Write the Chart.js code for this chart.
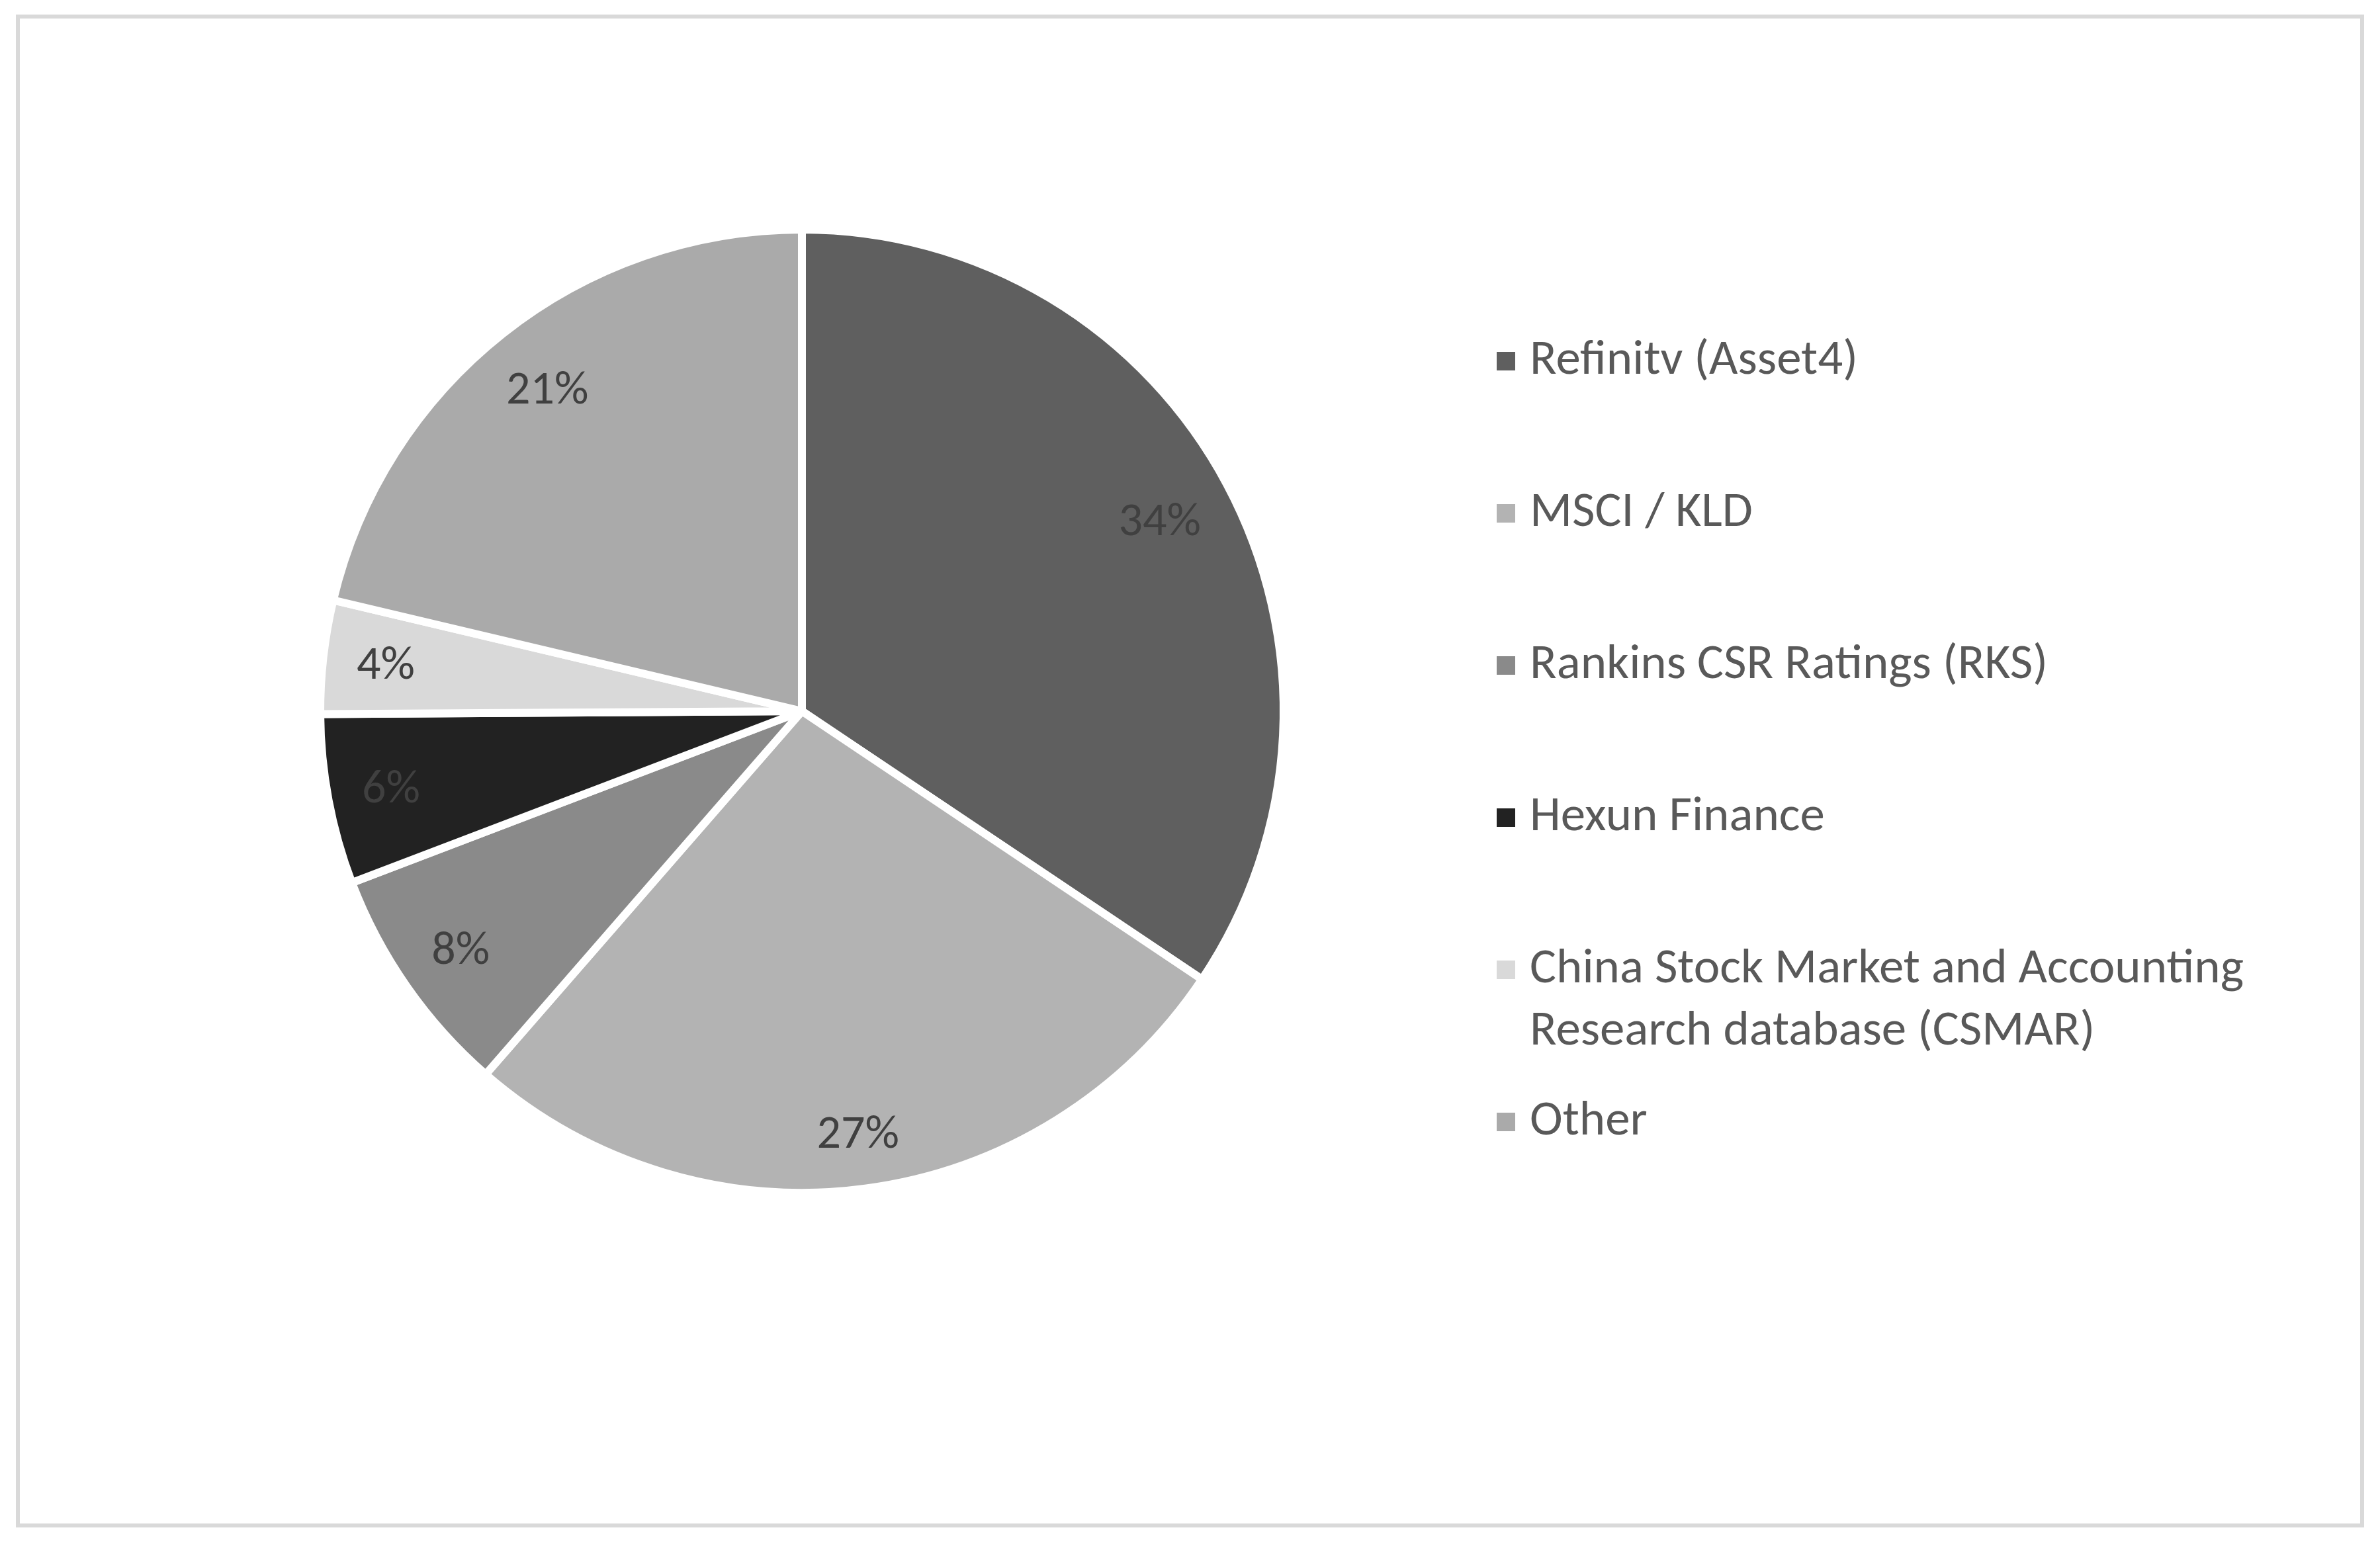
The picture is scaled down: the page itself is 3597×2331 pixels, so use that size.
<!DOCTYPE html>
<html>
<head>
<meta charset="UTF-8">
<style>
  html, body { margin: 0; padding: 0; background: #ffffff; }
  canvas { display: block; }
</style>
</head>
<body>
<canvas id="myChart" width="3597" height="2331"></canvas>

<script src="https://cdn.jsdelivr.net/npm/chart.js"></script>

<script>
    // data
    const labels = [
        'Refinitv (Asset4)',
        'MSCI / KLD',
        'Rankins CSR Ratings (RKS)',
        'Hexun Finance',
        'China Stock Market and Accounting Research database (CSMAR)',
        'Other'
    ];
    const shares = [34.4, 27.0, 7.8, 5.7, 3.8, 21.3];
    const colors = ['#5f5f5f', '#b3b3b3', '#8a8a8a', '#222222', '#d9d9d9', '#aaaaaa'];

    const FONT = 'Carlito, Lato, sans-serif';
    const labelSize = 72;
    const legendSize = 75;

    // grey frame round the whole chart
    const framePlugin = {
        id: 'frame',
        beforeDraw(chart) {
            const ctx = chart.ctx;
            ctx.save();
            ctx.fillStyle = '#ffffff';
            ctx.fillRect(0, 0, chart.width, chart.height);
            ctx.strokeStyle = '#d9d9d9';
            ctx.lineWidth = 6;
            ctx.strokeRect(27, 25, chart.width - 54, chart.height - 50);
            ctx.restore();
        }
    };

    // percent labels, placed inside the end of each slice
    const pctPlugin = {
        id: 'pct',
        afterDatasetsDraw(chart) {
            const ctx = chart.ctx;
            const meta = chart.getDatasetMeta(0);
            const data = chart.data.datasets[0].data;
            const total = data.reduce((a, b) => a + b, 0);
            ctx.save();
            ctx.font = labelSize + 'px ' + FONT;
            ctx.fillStyle = '#404040';
            ctx.textAlign = 'center';
            ctx.textBaseline = 'middle';
            meta.data.forEach((arc, i) => {
                const p = arc.getProps(['x', 'y', 'startAngle', 'endAngle', 'outerRadius'], true);
                const mid = (p.startAngle + p.endAngle) / 2;
                const ux = Math.cos(mid), uy = Math.sin(mid);
                const text = Math.round(data[i] / total * 100) + '%';
                const w = ctx.measureText(text).width;
                const h = labelSize * 0.72;
                const a = Math.sign(ux) * w / 2, b = Math.sign(uy) * h / 2;
                const T = p.outerRadius - 48;
                const q = ux * a + uy * b;
                const d = -q + Math.sqrt(q * q - (a * a + b * b - T * T));
                ctx.fillText(text, p.x + d * ux, p.y + d * uy + 4);
            });
            ctx.restore();
        }
    };

    // legend on the right, one slot per item, long names wrapped
    const legendPlugin = {
        id: 'sideLegend',
        afterDraw(chart) {
            const ctx = chart.ctx;
            const x0 = 2262, tx = 2312, y0 = 546, slot = 230, lineH = 94, box = 28, maxW = 1130;
            ctx.save();
            ctx.font = legendSize + 'px ' + FONT;
            ctx.textAlign = 'left';
            ctx.textBaseline = 'middle';
            chart.data.labels.forEach((lab, i) => {
                const y = y0 + i * slot;
                ctx.fillStyle = colors[i];
                ctx.fillRect(x0, y - box / 2, box, box);
                ctx.fillStyle = '#595959';
                const words = lab.split(' ');
                let line = '', row = 0;
                words.forEach(wd => {
                    const test = line ? line + ' ' + wd : wd;
                    if (ctx.measureText(test).width > maxW && line) {
                        ctx.fillText(line, tx, y + row * lineH);
                        row++;
                        line = wd;
                    } else {
                        line = test;
                    }
                });
                ctx.fillText(line, tx, y + row * lineH);
            });
            ctx.restore();
        }
    };

    const ctx = document.getElementById('myChart');
    new Chart(ctx, {
        type: 'pie',
        data: {
            labels: labels,
            datasets: [{
                data: shares,
                backgroundColor: colors,
                borderColor: '#ffffff',
                borderWidth: 12
            }]
        },
        options: {
            responsive: false,
            animation: false,
            radius: 728,
            layout: {
                padding: { left: 490, right: 1663, top: 353, bottom: 534 }
            },
            plugins: {
                legend: { display: false },
                tooltip: { enabled: false }
            }
        },
        plugins: [framePlugin, pctPlugin, legendPlugin]
    });
</script>
</body>
</html>
